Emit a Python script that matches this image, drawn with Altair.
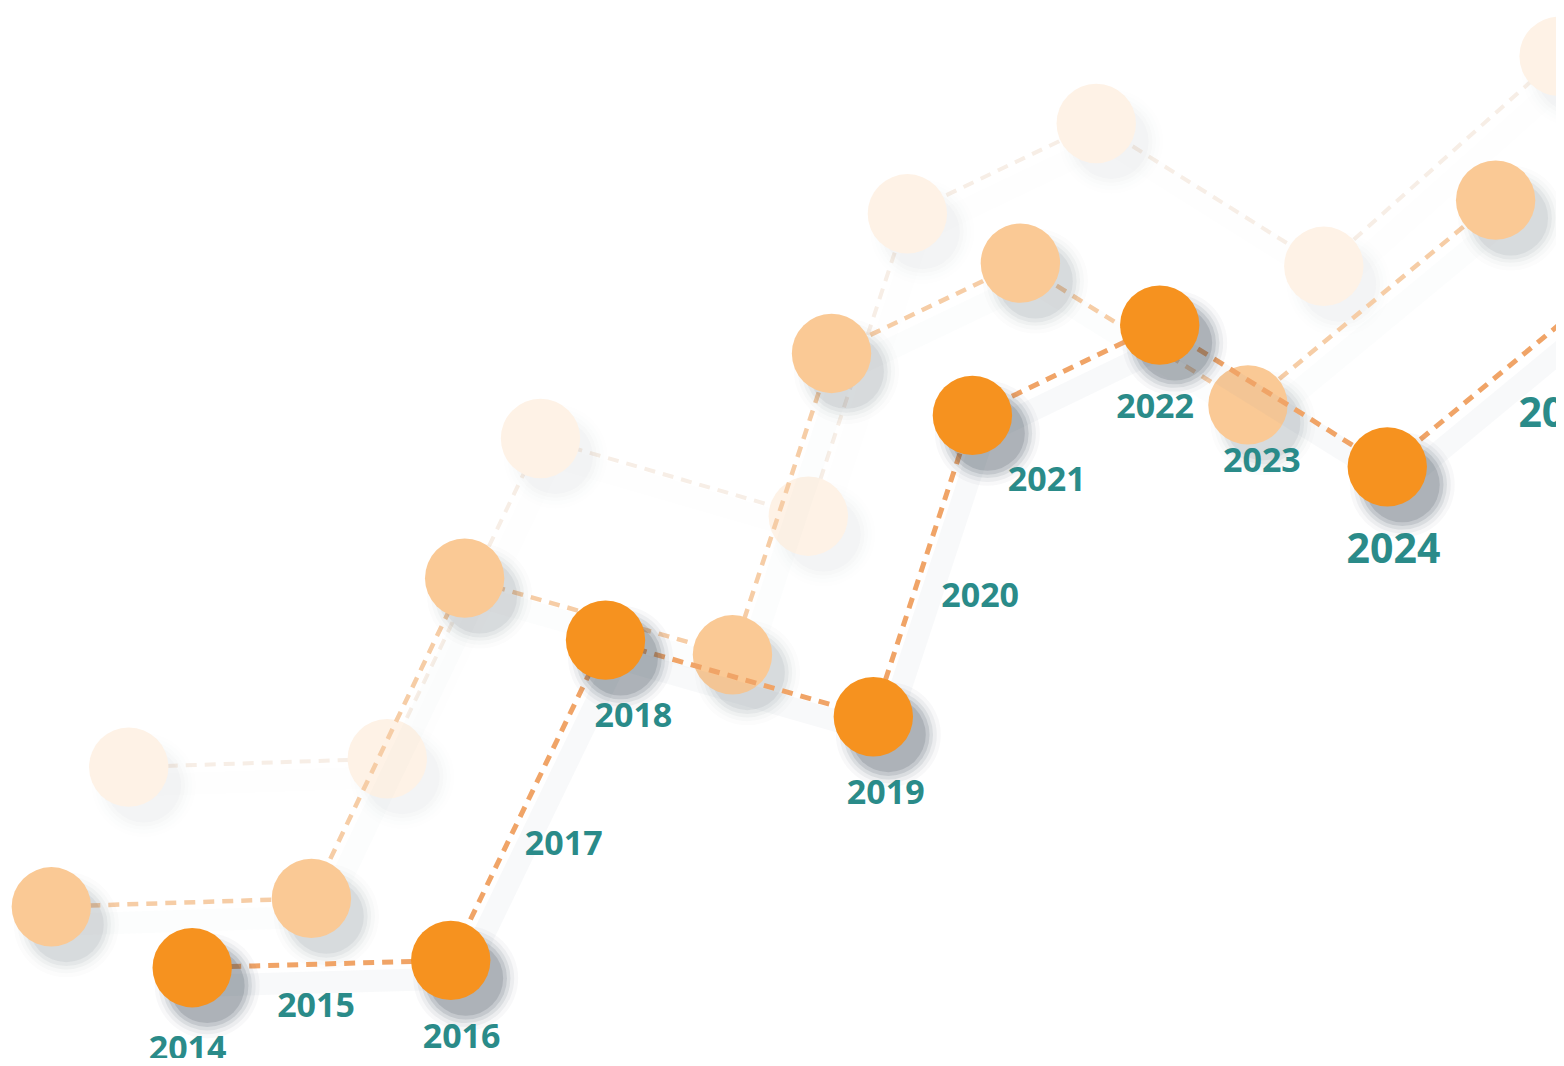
import altair as alt
import pandas as pd

# Front (bright orange) series
front_x = [11.9, 28.6, 38.6, 55.9, 62.3, 74.4, 89.1, 105.1]
front_y = [8.6, 9.3, 39.8, 32.5, 61.2, 69.8, 56.3, 75.8]
# Middle (peach) series
mid_x = [2.8, 19.6, 29.5, 46.8, 53.2, 65.4, 80.1, 96.1]
mid_y = [14.4, 15.2, 45.7, 38.4, 67.1, 75.7, 62.2, 81.7]
# Back (faint) series
back_x = [7.8, 24.5, 34.4, 51.7, 58.1, 70.3, 85.0, 100.2]
back_y = [27.7, 28.5, 59.0, 51.6, 80.4, 89.0, 75.4, 95.4]

# Year labels
years = ["2014", "2015", "2016", "2017", "2018", "2019", "2020",
         "2021", "2022", "2023", "2024", "2025"]
label_x = [11.6, 19.9, 29.3, 35.9, 40.4, 56.7, 62.8, 67.1, 74.1, 81.0, 89.5, 100.6]
label_y = [0.8, 4.9, 1.9, 20.3, 32.5, 25.1, 43.9, 55.0, 61.9, 56.8, 48.3, 61.2]

rows = []
for name, xs, ys in [("back", back_x, back_y), ("mid", mid_x, mid_y), ("front", front_x, front_y)]:
    for i, (a, b) in enumerate(zip(xs, ys)):
        rows.append({"layer": name, "seq": i, "x": a, "y": b})
pts = pd.DataFrame(rows)
labels = pd.DataFrame({"year": years, "x": label_x, "y": label_y})

xs = alt.Scale(domain=[0, 100], nice=False, zero=False)
ys = alt.Scale(domain=[0, 100], nice=False, zero=False)
X = alt.X("x:Q", scale=xs, axis=None)
Y = alt.Y("y:Q", scale=ys, axis=None)

styles = {
    "back":  dict(line="#F7EEE6", circle="#FEF2E6", shadow_op=0.02, lw=4),
    "mid":   dict(line="#F6CDA6", circle="#FAC995", shadow_op=0.07, lw=4.5),
    "front": dict(line="#F0A467", circle="#F6921F", shadow_op=0.17, lw=5),
}

layers = []
for name in ["back", "mid", "front"]:
    st = styles[name]
    base = alt.Chart(pts).transform_filter(alt.datum.layer == name)
    # line shadow
    layers.append(base.mark_line(strokeWidth=22, color="#7d8c9c", opacity=st["shadow_op"] * 0.3,
                                 xOffset=12, yOffset=18, strokeCap="round", clip=True)
                  .encode(x=X, y=Y, order="seq:Q"))
    # dashed line
    layers.append(base.mark_line(strokeWidth=st["lw"], color=st["line"], strokeDash=[11, 8],
                                 clip=True)
                  .encode(x=X, y=Y, order="seq:Q"))
    # circle shadows (stacked for blur)
    for sz, op in [(11000, 0.2), (9400, 0.35), (8000, 0.55), (6800, 0.8), (5600, 1.0)]:
        layers.append(base.mark_circle(size=sz, color="#3a4654", opacity=st["shadow_op"] * op,
                                       xOffset=15, yOffset=18, clip=True)
                      .encode(x=X, y=Y))
    # circles
    layers.append(base.mark_circle(size=6300, color=st["circle"], opacity=1, clip=True)
                  .encode(x=X, y=Y))

text = alt.Chart(labels).mark_text(font="Open Sans", fontWeight="bold", color="#2A8B89",
                                   align="center", baseline="middle").encode(
    x=X, y=Y, text="year:N",
    size=alt.condition(alt.datum.year >= "2024", alt.value(41), alt.value(34)),
)
layers.append(text)

chart = alt.layer(*layers).properties(
    width=1548, height=1050, padding=0,
    autosize=alt.AutoSizeParams(type="none"),
    background="white",
).configure_view(stroke=None)

chart.save("out.html", embed_options={"renderer": "svg", "actions": False})
